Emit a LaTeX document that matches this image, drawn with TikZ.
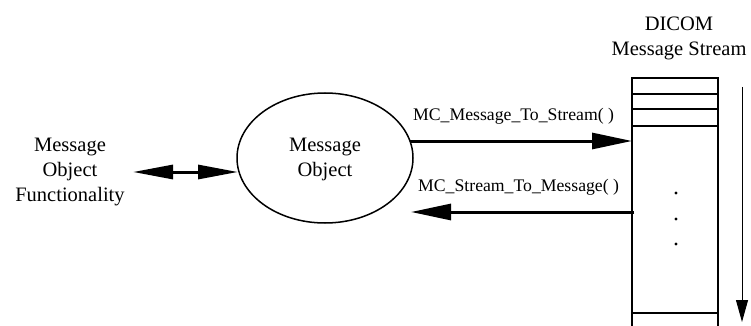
\documentclass[tikz,border=0pt]{standalone}
\usepackage{fontspec}
\setmainfont{Liberation Serif}
\usetikzlibrary{arrows.meta,shapes.geometric}
\tikzset{
  lbl/.style={font=\fontsize{17.7}{20}\selectfont, inner sep=0pt},
  ttl/.style={font=\fontsize{20.5}{25}\selectfont, align=center, inner sep=0pt},
  thickarrow/.style={line width=3pt, -{Triangle[length=40pt,width=16pt]}},
  dblarrow/.style={line width=3pt, {Triangle[length=40pt,width=14pt]}-{Triangle[length=40pt,width=14pt]}},
  boxline/.style={line width=1.5pt},
}
\begin{document}
\begin{tikzpicture}[x=1pt,y=-1pt]
\useasboundingbox (0,0) rectangle (751,326);
% message object
\node[draw, line width=1.5pt, ellipse, minimum width=176pt, minimum height=130pt, inner sep=0pt] (mo) at (325,158) {};
\node[ttl] (mot) at (325,159) {Message\\Object};
% left text
\node[ttl] (mof) at (70,172) {Message\\Object\\Functionality};
\coordinate (la) at (133,172);
\coordinate (lb) at (238,172);
\draw[dblarrow] (la) -- (lb);
% stream
\coordinate (stl) at (632,78);
\coordinate (str) at (718,78);
\coordinate (sbl) at (632,326);
\coordinate (sbr) at (718,326);
\draw[boxline] (sbl) -- (stl) -- (str) -- (sbr);
\draw[boxline] (632,94) -- (718,94);
\draw[boxline] (632,109) -- (718,109);
\draw[boxline] (632,126) -- (718,126);
\draw[boxline] (632,313) -- (718,313);
\node[ttl] (dicom) at (679,38) {DICOM\\Message Stream};
\foreach \yy in {193,219,244} \fill (676,\yy) circle (1.6pt);
\coordinate (da) at (742,87);
\coordinate (db) at (742,322);
\draw[line width=1pt, -{Triangle[length=22pt,width=12pt]}] (da) -- (db);
% arrows
\coordinate (a1s) at (410,141);
\coordinate (a1e) at (632,141);
\draw[thickarrow] (a1s) -- (a1e);
\node[lbl, anchor=west] (l1) at (413,116) {MC\_Message\_To\_Stream( )};
\coordinate (a2s) at (634,212);
\coordinate (a2e) at (411,212);
\draw[thickarrow] (a2s) -- (a2e);
\node[lbl, anchor=west] (l2) at (418,187) {MC\_Stream\_To\_Message( )};
\end{tikzpicture}
\end{document}
